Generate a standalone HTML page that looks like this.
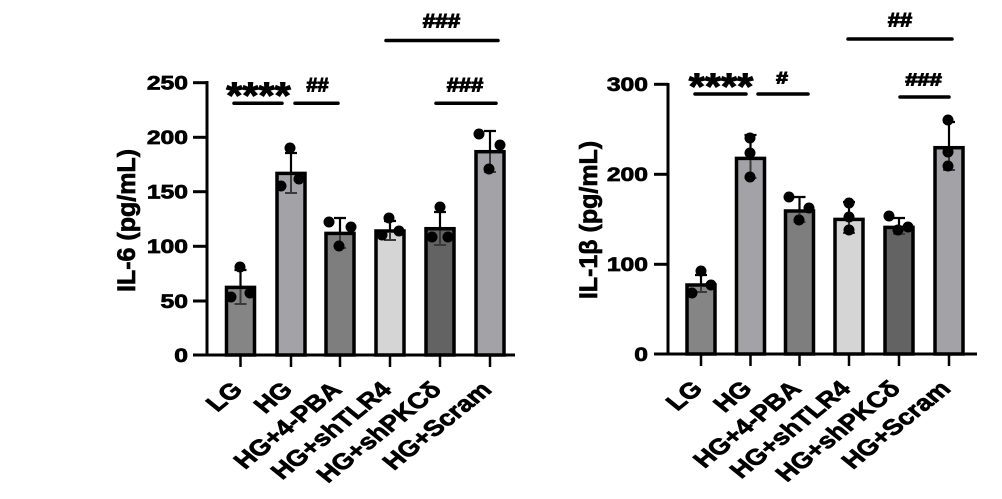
<!DOCTYPE html>
<html>
<head>
<meta charset="utf-8">
<style>
html,body{margin:0;padding:0;background:#fff;}
svg{display:block;}
text{font-family:"Liberation Sans",Arial,sans-serif;font-weight:bold;fill:#000;stroke:#000;stroke-width:0.7px;}
.sig{stroke-width:1px;}
</style>
</head>
<body>
<svg width="1002" height="499" viewBox="0 0 1002 499" xmlns="http://www.w3.org/2000/svg">
<rect width="1002" height="499" fill="#fff"/>

<!-- ================= LEFT CHART (IL-6) ================= -->
<g stroke="#000" stroke-width="3" fill="none">
  <line x1="207" y1="81" x2="207" y2="356.5"/>
  <line x1="205.5" y1="355" x2="515" y2="355"/>
  <line x1="193" y1="82.7" x2="207" y2="82.7"/>
  <line x1="193" y1="137.3" x2="207" y2="137.3"/>
  <line x1="193" y1="191.7" x2="207" y2="191.7"/>
  <line x1="193" y1="246.3" x2="207" y2="246.3"/>
  <line x1="193" y1="301" x2="207" y2="301"/>
  <line x1="193" y1="355" x2="207" y2="355"/>
</g>
<g stroke="#000" stroke-width="2.5">
  <line x1="240.5" y1="355" x2="240.5" y2="367"/>
  <line x1="291" y1="355" x2="291" y2="367"/>
  <line x1="340" y1="355" x2="340" y2="367"/>
  <line x1="390" y1="355" x2="390" y2="367"/>
  <line x1="440" y1="355" x2="440" y2="367"/>
  <line x1="490" y1="355" x2="490" y2="367"/>
</g>
<!-- y tick labels -->
<g font-size="19" text-anchor="end">
  <text transform="translate(188,89.5) scale(1.3,1)">250</text>
  <text transform="translate(188,144.1) scale(1.3,1)">200</text>
  <text transform="translate(188,198.5) scale(1.3,1)">150</text>
  <text transform="translate(188,253.1) scale(1.3,1)">100</text>
  <text transform="translate(188,307.8) scale(1.3,1)">50</text>
  <text transform="translate(188,361.8) scale(1.3,1)">0</text>
</g>
<text font-size="25" text-anchor="middle" transform="translate(135,220.5) rotate(-90)">IL-6 (pg/mL)</text>

<!-- bars -->
<g stroke="#000" stroke-width="3.5">
  <rect x="226.5" y="287.4" width="28" height="67.6" fill="#858585"/>
  <rect x="277" y="173.4" width="28" height="181.6" fill="#a3a3a7"/>
  <rect x="326" y="233.4" width="28" height="121.6" fill="#7e7e7e"/>
  <rect x="376" y="231" width="28" height="124" fill="#d5d5d5"/>
  <rect x="426" y="228.7" width="28" height="126.3" fill="#636363"/>
  <rect x="476" y="151.7" width="28" height="203.3" fill="#a3a3a7"/>
</g>
<!-- error bars -->
<g stroke="#000" stroke-width="2.2" fill="none">
  <path d="M240.5 287.4V270M234.5 270H246.5"/>
  <path d="M291 173.4V153M285 153H297"/>
  <path d="M340 233.4V218M334 218H346"/>
  <path d="M390 231V221M384 221H396"/>
  <path d="M440 228.7V212M434 212H446"/>
  <path d="M490 151.7V131M484 131H496"/>
</g>
<g stroke="#3a3a3a" stroke-width="2" fill="none">
  <path d="M240.5 289V304M234.5 304H246.5"/>
  <path d="M291 175V193M285 193H297"/>
  <path d="M340 235V248M334 248H346"/>
  <path d="M390 233V240M384 240H396"/>
  <path d="M440 230.5V245M434 245H446"/>
  <path d="M490 153.5V172M484 172H496"/>
</g>
<!-- dots -->
<g fill="#000">
  <circle cx="240" cy="267" r="5.5"/><circle cx="231" cy="297" r="5.5"/><circle cx="250" cy="293" r="5.5"/>
  <circle cx="290" cy="148" r="5.5"/><circle cx="281" cy="186" r="5.5"/><circle cx="299" cy="179" r="5.5"/>
  <circle cx="329" cy="222" r="5.5"/><circle cx="351" cy="227" r="5.5"/><circle cx="339" cy="246" r="5.5"/>
  <circle cx="389" cy="218" r="5.5"/><circle cx="399" cy="231" r="5.5"/><circle cx="382" cy="235" r="5.5"/>
  <circle cx="440" cy="207" r="5.5"/><circle cx="432" cy="237" r="5.5"/><circle cx="448" cy="237" r="5.5"/>
  <circle cx="479" cy="134" r="5.5"/><circle cx="500" cy="145" r="5.5"/><circle cx="489" cy="169" r="5.5"/>
</g>
<!-- significance -->
<g stroke="#000" stroke-width="3.5" stroke-linecap="round">
  <line x1="234" y1="103.3" x2="282" y2="103.3"/>
  <line x1="295" y1="103.3" x2="338" y2="103.3"/>
  <line x1="436" y1="103.3" x2="496" y2="103.3"/>
  <line x1="386" y1="40.5" x2="498" y2="40.5"/>
</g>
<text class="sig" font-size="37" text-anchor="middle" transform="translate(258.5,108) scale(1.12,1)">****</text>
<text class="sig" font-size="19" text-anchor="middle" transform="translate(317.5,91.5) scale(1.05,1)">##</text>
<text class="sig" font-size="19" text-anchor="middle" transform="translate(465,91.5) scale(1.15,1)">###</text>
<text class="sig" font-size="19.5" text-anchor="middle" transform="translate(441.5,27.5) scale(1.15,1)">###</text>

<!-- x labels -->
<g font-size="22" text-anchor="end">
  <text transform="translate(244,391) scale(1.24,1) rotate(-45)">LG</text>
  <text transform="translate(294,391) scale(1.24,1) rotate(-45)">HG</text>
  <text transform="translate(343,391) scale(1.24,1) rotate(-45)">HG+4-PBA</text>
  <text transform="translate(393,391) scale(1.24,1) rotate(-45)">HG+shTLR4</text>
  <text transform="translate(443,391) scale(1.24,1) rotate(-45)">HG+shPKCδ</text>
  <text transform="translate(493,391) scale(1.24,1) rotate(-45)">HG+Scram</text>
</g>

<!-- ================= RIGHT CHART (IL-1β) ================= -->
<g stroke="#000" stroke-width="3" fill="none">
  <line x1="668" y1="83" x2="668" y2="355.5"/>
  <line x1="666.5" y1="354" x2="977" y2="354"/>
  <line x1="654" y1="84.3" x2="668" y2="84.3"/>
  <line x1="654" y1="174.3" x2="668" y2="174.3"/>
  <line x1="654" y1="264.3" x2="668" y2="264.3"/>
  <line x1="654" y1="354" x2="668" y2="354"/>
</g>
<g stroke="#000" stroke-width="2.5">
  <line x1="701" y1="354" x2="701" y2="366"/>
  <line x1="750.5" y1="354" x2="750.5" y2="366"/>
  <line x1="799.5" y1="354" x2="799.5" y2="366"/>
  <line x1="849" y1="354" x2="849" y2="366"/>
  <line x1="899" y1="354" x2="899" y2="366"/>
  <line x1="949" y1="354" x2="949" y2="366"/>
</g>
<g font-size="19" text-anchor="end">
  <text transform="translate(648,91.1) scale(1.3,1)">300</text>
  <text transform="translate(648,181.1) scale(1.3,1)">200</text>
  <text transform="translate(648,271.1) scale(1.3,1)">100</text>
  <text transform="translate(648,360.8) scale(1.3,1)">0</text>
</g>
<text font-size="25" text-anchor="middle" transform="translate(597,220) rotate(-90)">IL-1β (pg/mL)</text>

<g stroke="#000" stroke-width="3.5">
  <rect x="687" y="285" width="28" height="69" fill="#858585"/>
  <rect x="736.5" y="158.4" width="28" height="195.6" fill="#a3a3a7"/>
  <rect x="785.5" y="211" width="28" height="143" fill="#7e7e7e"/>
  <rect x="835" y="219.4" width="28" height="134.6" fill="#d5d5d5"/>
  <rect x="885" y="227.4" width="28" height="126.6" fill="#636363"/>
  <rect x="935" y="147.7" width="28" height="206.3" fill="#a3a3a7"/>
</g>
<g stroke="#000" stroke-width="2.2" fill="none">
  <path d="M701 285V275M695 275H707"/>
  <path d="M750.5 158.4V135M744.5 135H756.5"/>
  <path d="M799.5 211V197M793.5 197H805.5"/>
  <path d="M849 219.4V202M843 202H855"/>
  <path d="M899 227.4V218M893 218H905"/>
  <path d="M949 147.7V122M943 122H955"/>
</g>
<g stroke="#3a3a3a" stroke-width="2" fill="none">
  <path d="M701 287V292M695 292H707"/>
  <path d="M750.5 160V178M744.5 178H756.5"/>
  <path d="M799.5 213V222M793.5 222H805.5"/>
  <path d="M849 221V233M843 233H855"/>
  <path d="M899 229V234M893 234H905"/>
  <path d="M949 149.5V170M943 170H955"/>
</g>
<g fill="#000">
  <circle cx="701" cy="271" r="5.5"/><circle cx="692" cy="293" r="5.5"/><circle cx="711" cy="285" r="5.5"/>
  <circle cx="750" cy="138" r="5.5"/><circle cx="750" cy="153" r="5.5"/><circle cx="750" cy="177" r="5.5"/>
  <circle cx="789" cy="197" r="5.5"/><circle cx="809" cy="208" r="5.5"/><circle cx="799" cy="220" r="5.5"/>
  <circle cx="849" cy="203" r="5.5"/><circle cx="849" cy="217" r="5.5"/><circle cx="849" cy="230" r="5.5"/>
  <circle cx="889" cy="216" r="5.5"/><circle cx="908" cy="227" r="5.5"/><circle cx="898" cy="230" r="5.5"/>
  <circle cx="948" cy="120" r="5.5"/><circle cx="948" cy="152" r="5.5"/><circle cx="948" cy="166" r="5.5"/>
</g>
<g stroke="#000" stroke-width="3.5" stroke-linecap="round">
  <line x1="695" y1="94" x2="746" y2="94"/>
  <line x1="758" y1="94" x2="808" y2="94"/>
  <line x1="900" y1="97" x2="949" y2="97"/>
  <line x1="848" y1="39" x2="952" y2="39"/>
</g>
<text class="sig" font-size="37" text-anchor="middle" transform="translate(721,99) scale(1.12,1)">****</text>
<text class="sig" font-size="17" text-anchor="middle" transform="translate(782,83.5) scale(1.25,1)">#</text>
<text class="sig" font-size="18" text-anchor="middle" transform="translate(923.5,85.5) scale(1.22,1)">###</text>
<text class="sig" font-size="19.5" text-anchor="middle" transform="translate(900,26.5) scale(1.12,1)">##</text>

<g font-size="22" text-anchor="end">
  <text transform="translate(704,390) scale(1.24,1) rotate(-45)">LG</text>
  <text transform="translate(753.5,390) scale(1.24,1) rotate(-45)">HG</text>
  <text transform="translate(802.5,390) scale(1.24,1) rotate(-45)">HG+4-PBA</text>
  <text transform="translate(852,390) scale(1.24,1) rotate(-45)">HG+shTLR4</text>
  <text transform="translate(902,390) scale(1.24,1) rotate(-45)">HG+shPKCδ</text>
  <text transform="translate(952,390) scale(1.24,1) rotate(-45)">HG+Scram</text>
</g>
</svg>
</body>
</html>
